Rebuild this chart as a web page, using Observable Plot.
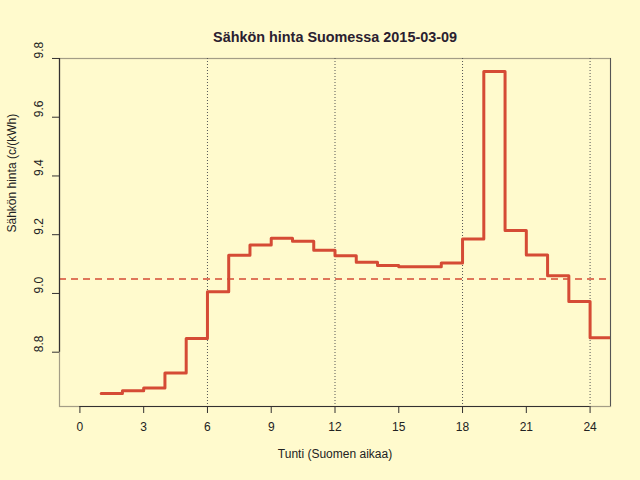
<!DOCTYPE html>
<html>
<head>
<meta charset="utf-8">
<script src="https://cdn.jsdelivr.net/npm/d3@7"></script>
<script src="https://cdn.jsdelivr.net/npm/@observablehq/plot@0.6"></script>
<style>
  html, body { margin: 0; padding: 0; background: #fffacd; }
</style>
</head>
<body>
<div id="chart"></div>
<script>
const hours = [1, 2, 3, 4, 5, 6, 7, 8, 9, 10, 11, 12, 13, 14, 15, 16, 17, 18, 19, 20, 21, 22, 23, 24];
const prices = [8.659, 8.669, 8.678, 8.729, 8.847, 9.006, 9.130, 9.165, 9.188, 9.178, 9.147, 9.128,
                9.106, 9.095, 9.091, 9.091, 9.104, 9.185, 9.756, 9.214, 9.131, 9.060, 8.973, 8.849];
const xTicks = [0, 3, 6, 9, 12, 15, 18, 21, 24];
const yTicks = [8.8, 9.0, 9.2, 9.4, 9.6, 9.8];
const gridHours = [6, 12, 18, 24];
const titleText = "Sähkön hinta Suomessa 2015-03-09";
const xLabel = "Tunti (Suomen aikaa)";
const yLabel = "Sähkön hinta (c/(kWh)";

// step data: each hour's price held until the next hour
const steps = hours.map((h, i) => ({hour: h, price: prices[i]}));
steps.push({hour: hours[hours.length - 1] + 1, price: prices[prices.length - 1]});

const avgPrice = d3.mean(prices);

// R-style 4% axis extension
const xr = [0, 24];
const xPad = (xr[1] - xr[0]) * 0.04;
const yr = d3.extent(prices);
const yPad = (yr[1] - yr[0]) * 0.04;
const xDomain = [xr[0] - xPad, xr[1] + xPad];
const yDomain = [yr[0] - yPad, yr[1] + yPad];

const red = "#d54b35";
const dark = "#333030";
const textCol = "#222";

const chart = Plot.plot({
  width: 640,
  height: 480,
  marginLeft: 59,
  marginRight: 30,
  marginTop: 58,
  marginBottom: 74,
  style: {background: "#fffacd", fontFamily: "'Liberation Sans', Arial, sans-serif", fontSize: "12px", color: textCol},
  x: {domain: xDomain, label: null},
  y: {domain: yDomain, label: null},
  marks: [
    Plot.frame({stroke: "#a39d86", strokeWidth: 1.2}),
    Plot.ruleX(gridHours, {stroke: "#555", strokeDasharray: "1,2", strokeWidth: 1}),
    Plot.ruleY([avgPrice], {stroke: red, strokeDasharray: "7,5", strokeWidth: 1.5}),
    Plot.line(steps, {x: "hour", y: "price", curve: "step-after", stroke: red, strokeWidth: 3, clip: true}),
    // right border dark
    Plot.ruleX([xDomain[1]], {stroke: "#555", strokeWidth: 1}),
    // axis lines (R style)
    Plot.ruleY([yDomain[0]], {x1: xTicks[0], x2: xTicks[xTicks.length - 1], stroke: dark, strokeWidth: 1.2}),
    Plot.ruleX([xDomain[0]], {y1: yTicks[0], y2: yTicks[yTicks.length - 1], stroke: dark, strokeWidth: 1.2}),
    Plot.axisX({ticks: xTicks, tickSize: 7, tickPadding: 9, label: null, stroke: dark, fill: textCol, tickFormat: d => String(d)}),
    Plot.axisY({ticks: yTicks, tickSize: 7, label: null, stroke: dark, tickFormat: () => ""}),
    Plot.text(yTicks, {y: d => d, frameAnchor: "left", dx: -20, rotate: -90, text: d => d3.format(".1f")(d), fill: textCol, fontSize: 12}),
    Plot.text([titleText], {frameAnchor: "top", dy: -27, text: d => d, fontWeight: "bold", fontSize: 14.4, fill: "#2a2030"}),
    Plot.text([xLabel], {frameAnchor: "bottom", dy: 51, text: d => d, fontSize: 12, fill: textCol}),
    Plot.text([yLabel], {frameAnchor: "left", dx: -47, rotate: -90, text: d => d, fontSize: 12, fill: textCol})
  ]
});
document.getElementById("chart").appendChild(chart);
</script>
</body>
</html>
